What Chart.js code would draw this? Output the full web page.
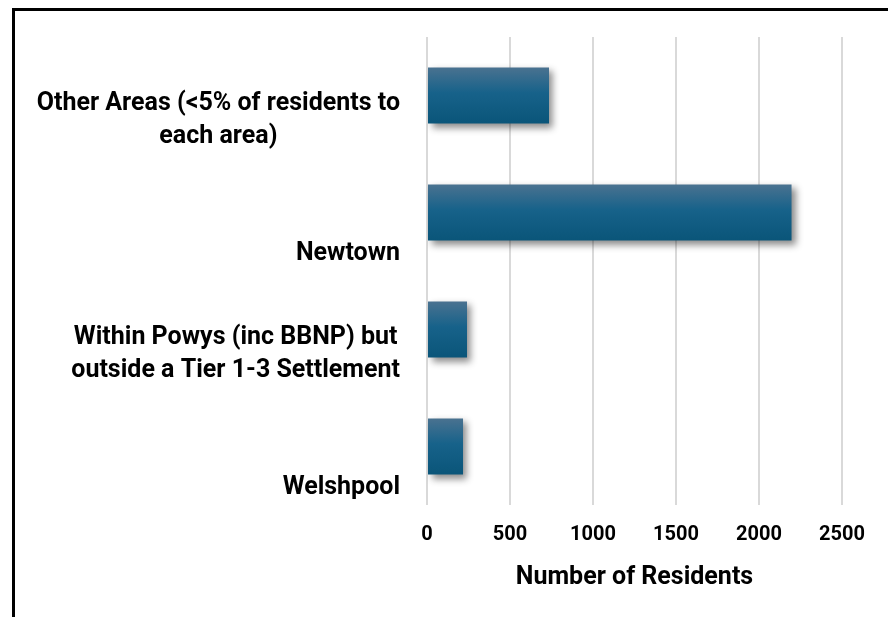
<!DOCTYPE html>
<html>
  <head>
    <meta charset="UTF-8" />
    <title>Residents by area</title>
    <script src="https://cdn.jsdelivr.net/npm/chart.js"></script>
    <style type="text/css">
      html, body { margin:0; padding:0; background:#fff; }
      #frame {
          position:absolute; left:12px; top:8px;
          width:873px; height:609px;
          border-left:3px solid #000; border-top:3px solid #000;
      }
      #wrap { position:relative; width:873px; height:606px; }
    </style>
  </head>
  <body>
    <div id="frame">
      <div id="wrap"><canvas id="residents"></canvas></div>
    </div>

    <script>
      // data
      var areas = [
        ["Other Areas (<5% of residents to", "each area)"],
        ["Newtown"],
        ["Within Powys (inc BBNP) but", "outside a Tier 1-3 Settlement"],
        ["Welshpool"]
      ];
      var residents = [735, 2196, 241, 217];
      var xTicks = [0, 500, 1000, 1500, 2000, 2500];
      var xTitle = "Number of Residents";

      var FONT = "Roboto, 'DejaVu Sans', sans-serif";

      // gradient + drop shadow on the bars (each bar gets its own options copy)
      var barLook = {
        id: 'barLook',
        beforeDatasetsDraw: function(chart){
          var ctx = chart.ctx;
          chart.getDatasetMeta(0).data.forEach(function(bar){
            var top = bar.y - bar.height / 2, bot = bar.y + bar.height / 2;
            var g = ctx.createLinearGradient(0, top, 0, bot);
            g.addColorStop(0, '#4a7290');
            g.addColorStop(0.45, '#17628a');
            g.addColorStop(1, '#0a5579');
            bar.options = Object.assign({}, bar.options, { backgroundColor: g });
          });
          ctx.save();
          ctx.shadowColor = 'rgba(0,0,0,0.45)';
          ctx.shadowBlur = 7;
          ctx.shadowOffsetX = 4;
          ctx.shadowOffsetY = 4;
        },
        afterDatasetsDraw: function(chart){
          chart.ctx.restore();
        }
      };

      // category labels: block right-aligned, lines centred, sitting low in the band
      var areaLabels = {
        id: 'areaLabels',
        afterDraw: function(chart){
          var ctx = chart.ctx, y = chart.scales.y;
          var band = (y.bottom - y.top) / areas.length;
          var right = y.right - 27;
          ctx.save();
          ctx.font = "bold 25px " + FONT;
          ctx.fillStyle = '#000';
          ctx.textAlign = 'center';
          ctx.textBaseline = 'alphabetic';
          areas.forEach(function(lines, i){
            var w = 0;
            lines.forEach(function(l){ w = Math.max(w, ctx.measureText(l).width); });
            var cx = right - w / 2;
            var base = y.getPixelForTick(i) + band / 2 - 11;
            for (var k = lines.length - 1, n = 0; k >= 0; k--, n++) {
              ctx.fillText(lines[k], cx, base - n * 33);
            }
          });
          ctx.restore();
        }
      };

      new Chart(document.getElementById('residents'), {
        type: 'bar',
        data: {
          labels: areas,
          datasets: [{
            data: residents,
            backgroundColor: '#17628a',
            borderWidth: 0,
            barPercentage: 0.48,
            categoryPercentage: 1
          }]
        },
        options: {
          indexAxis: 'y',
          responsive: true,
          maintainAspectRatio: false,
          animation: false,
          layout: { padding: { top: 26, right: 46, bottom: 0, left: 0 } },
          plugins: { legend: { display: false }, tooltip: { enabled: false } },
          scales: {
            x: {
              min: 0, max: 2500,
              afterBuildTicks: function(s){ s.ticks = xTicks.map(function(v){ return { value: v }; }); },
              afterFit: function(s){ s.height = 112; },
              grid: { color: '#d9d9d9', lineWidth: 2, drawTicks: false },
              border: { display: false },
              ticks: {
                color: '#000', padding: 18,
                font: { family: FONT, size: 20, weight: 'bold' },
                callback: function(v){ return String(v); }
              },
              title: {
                display: true, text: xTitle, color: '#000',
                padding: { top: 10, bottom: 24 },
                font: { family: FONT, size: 25, weight: 'bold' }
              }
            },
            y: {
              afterFit: function(s){ s.width = 412; },
              grid: { display: false },
              border: { display: false },
              ticks: { display: false }
            }
          }
        },
        plugins: [barLook, areaLabels]
      });
    </script>
  </body>
</html>
